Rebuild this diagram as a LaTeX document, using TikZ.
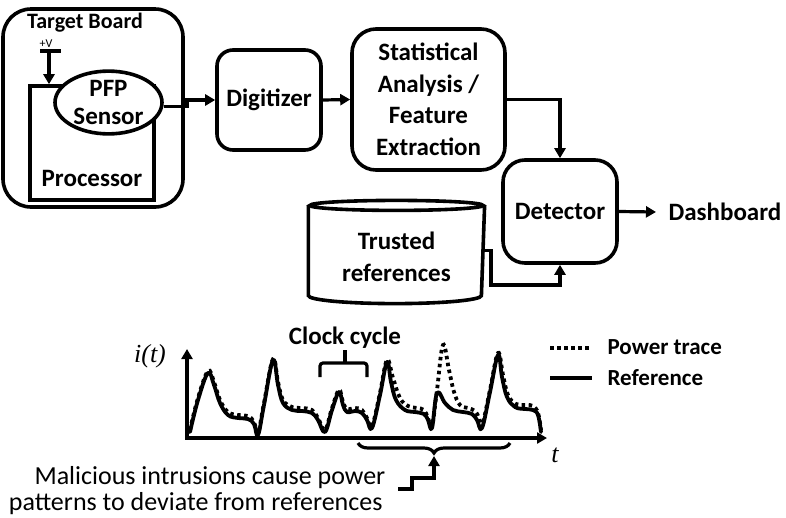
\documentclass[tikz,border=0pt]{standalone}
\usepackage{fontspec}
\setmainfont{Carlito}
\newfontfamily\serifit{Liberation Serif}
\usetikzlibrary{arrows.meta,shapes.geometric,decorations.pathreplacing}
\begin{document}
\begin{tikzpicture}[x=1pt,y=-1pt,line width=3.2pt,
  bigfont/.style={font=\bfseries\fontsize{25}{31.5}\selectfont},
  box/.style={draw,rounded corners=#1,line width=3.6pt,align=center,inner sep=0pt,bigfont},
  arr/.style={-{Triangle[length=10pt,width=11pt]}},
  mathlbl/.style={font=\serifit\itshape\fontsize{26}{26}\selectfont,inner sep=0pt},
  legendfont/.style={font=\bfseries\fontsize{23}{23}\selectfont,inner sep=0pt,anchor=west},
  captfont/.style={font=\fontsize{26}{28}\selectfont,inner sep=0pt,anchor=base east},
  reftrace/.style={line width=3.8pt,line join=round,line cap=round},
  powtrace/.style={line width=3.8pt,dash pattern=on 3.5pt off 3.5pt}]
\useasboundingbox (0,0) rectangle (786,517);

% Target board
\node[draw,rounded corners=28pt,line width=3.6pt,minimum width=180pt,minimum height=198pt,inner sep=0pt] (board) at (93,108) {};
\node[font=\bfseries\fontsize{22}{26}\selectfont,inner sep=0pt] (title) at (85,23) {Target Board};
\node[draw,line width=3.6pt,minimum width=124pt,minimum height=114pt,inner sep=0pt] (proc) at (92,143) {};
\node[bigfont,inner sep=0pt] (proclbl) at (92,178) {Processor};
\node[draw,ellipse,fill=white,line width=3.6pt,minimum width=107pt,minimum height=61pt,inner sep=0pt,align=center,font=\bfseries\fontsize{25}{28}\selectfont] (sensor) at (108.5,102.5) {PFP\\Sensor};
\node[font=\fontsize{12}{12}\selectfont,inner sep=0pt] (plusv) at (46,44) {+V};
\coordinate (vl) at (40,51);
\coordinate (vr) at (61,51);
\coordinate (vm) at (49,51);
\draw[line width=4.2pt] (vl) -- (vr);
\draw[arr] (vm) -- (vm |- proc.north);

% pipeline
\node[box=16pt,minimum width=104pt,minimum height=100pt] (digit) at (269,100) {Digitizer};
\node[box=24pt,minimum width=153pt,minimum height=141pt] (stat) at (428.5,99.5) {Statistical\\Analysis /\\Feature\\Extraction};
\node[box=22pt,minimum width=114pt,minimum height=103pt] (det) at (560,211.5) {Detector};
\node[bigfont,anchor=west,inner sep=0pt] (dash) at (667,212) {Dashboard};

\coordinate (stepc) at (187,104);
\draw[arr] ([yshift=-4pt]sensor.east) -| (stepc) |- (digit.west);
\draw[arr] (digit.east) -- (stat.west);
\draw[arr] (stat.east) -| (det.north);
\draw[arr] (det.east) -- ([xshift=-11pt]dash.west);

% trusted references cylinder
\node[minimum width=173pt,minimum height=87pt,inner sep=0pt] (trust) at (396.5,250.5) {};
\draw[line width=3.6pt] (trust.north west) -- (trust.south west)
  arc[start angle=180,end angle=360,x radius=86.5pt,y radius=8pt] -- (trust.north east);
\draw[line width=3.6pt] (trust.north) ellipse[x radius=86.5pt,y radius=5pt];
\node[align=center,inner sep=0pt,font=\bfseries\fontsize{25}{32}\selectfont] (trustlbl) at (396.5,257) {Trusted\\references};
\coordinate (j1) at (491,285);
\draw[arr] (trust.east) -| (j1) -| (det.south);

% plot axes
\coordinate (o) at (187,438);
\coordinate (ytip) at (187,349);
\coordinate (xtip) at (547,438);
\draw[{Triangle[length=10pt,width=11pt]}-{Triangle[length=10pt,width=11pt]}] (ytip) |- (xtip);
\node[mathlbl] (it) at (150,356) {i(t)};
\node[mathlbl] (tl) at (555,455) {t};

% traces
\draw[reftrace] plot[smooth,tension=0.65] coordinates {
(190,432) (198,400) (208,373) (214,385) (220,403) (228,415) (238,418) (248,419) (254,424) (258,435) (264,405) (273,360) (278,385) (283,403) (292,410) (302,411) (312,413) (318,420) (325,432) (332,410) (339,392) (343,405) (347,412) (355,411) (362,413) (367,420) (372,428) (380,395) (387,362) (391,382) (396,400) (405,410) (415,412) (424,414) (428,420) (432,428) (437,393) (445,403) (453,410) (463,412) (472,414) (477,420) (482,428) (490,392) (498,355) (502,377) (507,397) (515,407) (525,409) (533,410) (538,415) (541,432)};
\draw[powtrace] plot[smooth,tension=0.65] coordinates {
(190,430) (198,398) (208,371) (214,382) (220,400) (228,412) (238,415) (248,416) (254,422) (258,433) (264,403) (273,359) (278,382) (283,400) (292,407) (302,408) (312,410) (318,418) (325,430) (332,408) (339,390) (343,402) (347,409) (355,408) (362,410) (367,418) (372,426) (380,393) (387,360) (393,378) (400,398) (408,406) (417,408) (424,410) (428,418) (432,426) (437,390) (443,345) (449,370) (454,392) (460,405) (468,408) (475,411) (479,418) (482,426) (490,390) (498,353) (503,375) (508,395) (516,404) (526,405) (533,406) (538,413) (541,430)};

% clock cycle bracket
\draw[rounded corners=3pt] (320,377) -- (320,363) -- (367,363) -- (367,377);
\coordinate (ccb) at (345,363);
\coordinate (cct) at (345,350);
\draw (ccb) -- (cct);
\node[bigfont,inner sep=0pt] (clk) at (345,338) {Clock cycle};

% legend
\coordinate (ld1) at (550,348);
\coordinate (ld2) at (590,348);
\draw[powtrace] (ld1) -- (ld2);
\node[legendfont] (lp) at (606,347) {Power trace};
\coordinate (lr1) at (550,378);
\coordinate (lr2) at (592,378);
\draw[line width=3.8pt] (lr1) -- (lr2);
\node[legendfont] (lr) at (606,378) {Reference};

% intrusion brace and caption
\coordinate (b1) at (358,443);
\coordinate (b2) at (510,443);
\draw[decorate,decoration={brace,amplitude=10pt,mirror}] (b1) -- (b2);
\coordinate (btip) at (434,456);
\coordinate (c1) at (398,489);
\coordinate (c2) at (412,478);
\draw[arr] (c1) -| (c2) -| (btip);
\node[captfont] (cap1) at (387,484) {Malicious intrusions cause power};
\node[captfont] (cap2) at (384,510) {patterns to deviate from references};
\end{tikzpicture}
\end{document}
